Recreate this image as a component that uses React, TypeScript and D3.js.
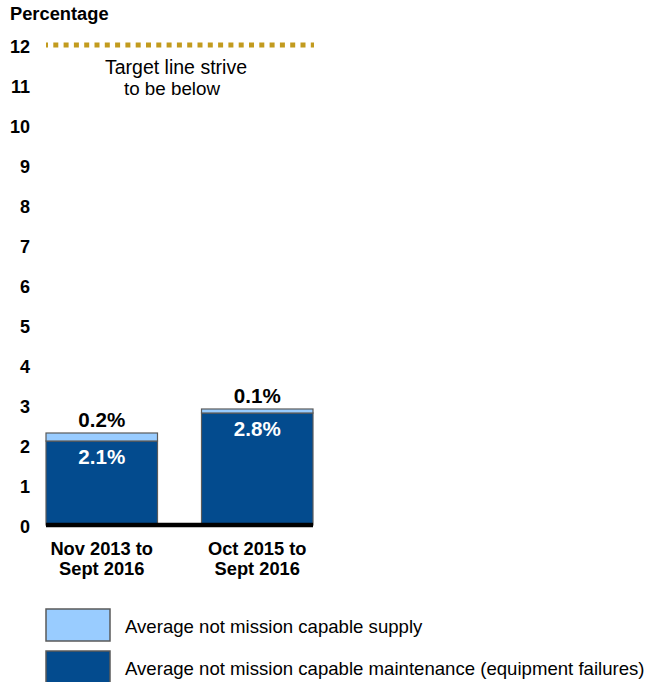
import React from "react";
import * as d3 from "d3";

const categories = ["Nov 2013 to|Sept 2016", "Oct 2015 to|Sept 2016"];
const maintenance = [2.1, 2.8];
const supply = [0.2, 0.1];
const yTicks = [0, 1, 2, 3, 4, 5, 6, 7, 8, 9, 10, 11, 12];
const target = 12;
const legendItems = [
  { key: "supply", label: "Average not mission capable supply" },
  { key: "maintenance", label: "Average not mission capable maintenance (equipment failures)" },
];

const DARK = "#034B8E";
const LIGHT = "#99CCFF";
const OUTLINE = "#5A5A5A";
const GOLD = "#C29B1E";
const FONT = "'Liberation Sans', Arial, sans-serif";

export default function App() {
  const W = 647, H = 682;
  const y = d3.scaleLinear().domain([0, 12]).range([525, 45]);
  const x = d3.scaleBand<string>().domain(categories).range([46, 313]).paddingInner(0.283).paddingOuter(0);
  const bw = x.bandwidth();

  return (
    <svg width={W} height={H} style={{ position: "absolute", left: 0, top: 0, fontFamily: FONT }}>
      <rect width={W} height={H} fill="#fff" />
      <text x={10} y={20} fontSize={18.3} fontWeight="bold" fill="#000">Percentage</text>
      {yTicks.map((t) => (
        <text key={t} x={30} y={y(t) + 1.5} dy="0.35em" textAnchor="end" fontSize={18} fontWeight="bold" fill="#000">{t}</text>
      ))}
      <line x1={46} x2={314} y1={y(target)} y2={y(target)} stroke={GOLD} strokeWidth={5} strokeDasharray="5 5.3" strokeDashoffset={3} />
      <text x={176} y={74} textAnchor="middle" fontSize={19.5} fill="#000">Target line strive</text>
      <text x={172} y={95} textAnchor="middle" fontSize={18.8} fill="#000">to be below</text>
      {categories.map((c, i) => {
        const x0 = x(c)!;
        const m = maintenance[i];
        const s = supply[i];
        const cx = x0 + bw / 2;
        const [l1, l2] = c.split("|");
        return (
          <g key={c}>
            <rect x={x0} y={y(m)} width={bw} height={y(0) - y(m)} fill={DARK} stroke={OUTLINE} strokeWidth={1.2} />
            <rect x={x0} y={y(m + s)} width={bw} height={y(m) - y(m + s)} fill={LIGHT} stroke={OUTLINE} strokeWidth={1.2} />
            <text x={cx} y={y(m + s) - 6} textAnchor="middle" fontSize={20.6} fontWeight="bold" fill="#000">{s.toFixed(1)}%</text>
            <text x={cx} y={y(m) + 23} textAnchor="middle" fontSize={20.6} fontWeight="bold" fill="#fff">{m.toFixed(1)}%</text>
            <text x={cx} y={555} textAnchor="middle" fontSize={18.3} fontWeight="bold" fill="#000">{l1}</text>
            <text x={cx} y={575} textAnchor="middle" fontSize={18.3} fontWeight="bold" fill="#000">{l2}</text>
          </g>
        );
      })}
      <line x1={46} x2={313} y1={y(0)} y2={y(0)} stroke="#000" strokeWidth={4.5} />
      {legendItems.map((it, i) => (
        <g key={it.key} transform={`translate(0, ${i * 42})`}>
          <rect x={46} y={609} width={64} height={32} fill={it.key === "supply" ? LIGHT : DARK} stroke={OUTLINE} strokeWidth={1.5} />
          <text x={125} y={633} fontSize={18.6} fill="#000">{it.label}</text>
        </g>
      ))}
    </svg>
  );
}
